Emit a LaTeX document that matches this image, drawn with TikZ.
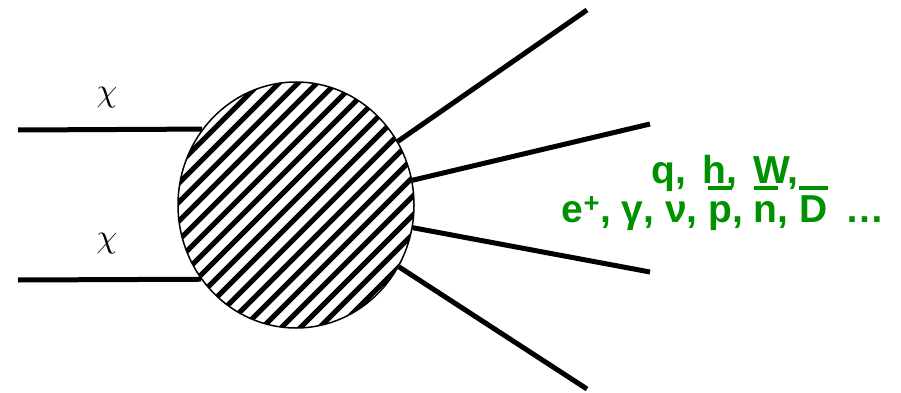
\documentclass[tikz,border=0pt]{standalone}
\usepackage{fontspec}
\setmainfont{Liberation Sans}
\usetikzlibrary{shapes.geometric}
\definecolor{prodgreen}{RGB}{0,145,0}
\newcommand{\antibar}[1]{\setbox0\hbox{#1}\rlap{\raisebox{0.83em}{\rule{\wd0}{0.1em}}}\box0}

\begin{document}
\begin{tikzpicture}[x=1pt, y=-1pt, line cap=butt]
  \useasboundingbox (0,0) rectangle (901,393);

  % ============ Annihilation blob ============
  \node[ellipse, draw, line width=1.5pt, minimum width=236pt, minimum height=246pt, inner sep=0pt,
        path picture={
          \foreach \k in {-10,...,10}
            \draw[line width=5pt] ([shift={(\k*19-166,160)}]path picture bounding box.center) -- ++(320,-320);
        }] (blob) at (296,205) {};

  % ============ Incoming dark matter ============
  \coordinate (inA) at (18,130);
  \coordinate (inB) at (18,280);
  \draw[line width=5pt] (inA) -- (blob.141.4);
  \draw[line width=5pt] (inB) -- (blob.218.6);
  \node[scale=3.3] (chiA) at (107,98) {$\chi$};
  \node[scale=3.3] (chiB) at (107,244) {$\chi$};

  % ============ Outgoing products ============
  \coordinate (outA) at (587,10);
  \coordinate (outB) at (650,124);
  \coordinate (outC) at (650,272);
  \coordinate (outD) at (587,389);
  \draw[line width=5pt] (blob.32.5) -- (outA);
  \draw[line width=5pt] (blob.12.4) -- (outB);
  \draw[line width=5pt] (blob.-11.2) -- (outC);
  \draw[line width=5pt] (blob.-31.7) -- (outD);

  \node[prodgreen, font=\bfseries\fontsize{39}{39}\selectfont, anchor=base] (prodA) at (725,183)
    {q,\hspace{0.42em}h,\hspace{0.42em}W,};
  \node[prodgreen, font=\bfseries\fontsize{39}{39}\selectfont, anchor=base] (prodB) at (723,222)
    {e\textsuperscript{+}, γ, ν, \antibar{p}, \antibar{n}, \antibar{D}\hspace{0.45em}…};

\end{tikzpicture}
\end{document}
